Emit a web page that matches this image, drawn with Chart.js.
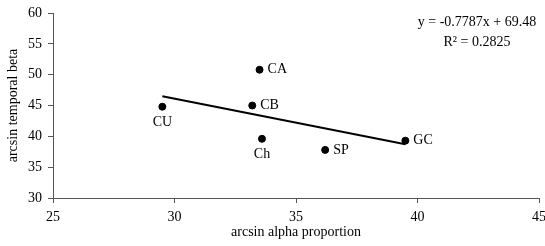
<!DOCTYPE html>
<html>
<head>
<meta charset="utf-8">
<script src="https://cdn.jsdelivr.net/npm/chart.js@4/dist/chart.umd.min.js"></script>
<style>
  html, body { margin: 0; padding: 0; background: #fff; }
  #wrap { width: 545px; height: 246px; }
</style>
</head>
<body>
<div id="wrap"><canvas id="chart"></canvas></div>
<script>
// site labels and values
const sites = ['CU', 'CA', 'CB', 'Ch', 'SP', 'GC'];
const alphaProp = [29.5, 33.5, 33.2, 33.6, 36.2, 39.5];
const temporalBeta = [44.8, 50.8, 45.0, 39.6, 37.8, 39.3];
// where each label sits relative to its point
const labelSide = ['below', 'right', 'right', 'below', 'right', 'right'];

// linear trend as printed on the chart
const slope = -0.7787;
const intercept = 69.48;
const eqText = ['y = -0.7787x + 69.48', 'R² = 0.2825'];

const xMin = Math.min(...alphaProp);
const xMax = Math.max(...alphaProp);
const trend = [
    { x: xMin, y: slope * xMin + intercept },
    { x: xMax, y: slope * xMax + intercept }
];

const serif = 'Liberation Serif, Times New Roman, serif';

const pointLabels = {
    id: 'pointLabels',
    afterDatasetsDraw(chart) {
        const ctx = chart.ctx;
        const meta = chart.getDatasetMeta(0);
        ctx.save();
        ctx.fillStyle = '#000';
        ctx.font = '14px ' + serif;
        meta.data.forEach((pt, i) => {
            if (labelSide[i] === 'below') {
                ctx.textAlign = 'center';
                ctx.textBaseline = 'top';
                ctx.fillText(sites[i], pt.x, pt.y + 9);
            } else {
                ctx.textAlign = 'left';
                ctx.textBaseline = 'middle';
                ctx.fillText(sites[i], pt.x + 8, pt.y);
            }
        });
        // regression equation, top right
        const area = chart.chartArea;
        ctx.textAlign = 'center';
        ctx.textBaseline = 'middle';
        ctx.fillText(eqText[0], area.right - 62, 22);
        ctx.fillText(eqText[1], area.right - 62, 42);
        ctx.restore();
    }
};

new Chart(document.getElementById('chart'), {
    type: 'scatter',
    data: {
        datasets: [{
            data: alphaProp.map((x, i) => ({ x: x, y: temporalBeta[i] })),
            backgroundColor: '#000',
            borderColor: '#000',
            pointRadius: 3.5,
            pointHoverRadius: 3.5
        }, {
            type: 'line',
            data: trend,
            borderColor: '#000',
            borderWidth: 2,
            pointRadius: 0,
            fill: false
        }]
    },
    options: {
        responsive: true,
        maintainAspectRatio: false,
        animation: false,
        layout: { padding: { top: 13, right: 6, left: 0, bottom: 0 } },
        plugins: {
            legend: { display: false },
            tooltip: { enabled: false }
        },
        scales: {
            x: {
                type: 'linear',
                min: 25,
                max: 45,
                ticks: {
                    stepSize: 5,
                    color: '#000',
                    font: { family: serif, size: 14 },
                    padding: 6
                },
                grid: {
                    display: true,
                    drawOnChartArea: false,
                    drawTicks: true,
                    tickLength: 5,
                    color: '#555'
                },
                border: { color: '#555', width: 1 },
                title: {
                    display: true,
                    text: 'arcsin alpha proportion',
                    color: '#000',
                    font: { family: serif, size: 14 },
                    padding: { top: 0, bottom: 5 }
                },
                afterFit(scale) {
                    scale.height = 48;
                    scale.paddingLeft = 0;
                    scale.paddingRight = 0;
                }
            },
            y: {
                min: 30,
                max: 60,
                ticks: {
                    stepSize: 5,
                    color: '#000',
                    font: { family: serif, size: 14 },
                    padding: 6
                },
                grid: {
                    display: true,
                    drawOnChartArea: false,
                    drawTicks: true,
                    tickLength: 5,
                    color: '#555'
                },
                border: { color: '#555', width: 1 },
                title: {
                    display: true,
                    text: 'arcsin temporal beta',
                    color: '#000',
                    font: { family: serif, size: 14 },
                    padding: { top: 5, bottom: 0 }
                },
                afterFit(scale) {
                    scale.width = 53;
                    scale.paddingTop = 0;
                    scale.paddingBottom = 0;
                }
            }
        }
    },
    plugins: [pointLabels]
});
</script>
</body>
</html>
